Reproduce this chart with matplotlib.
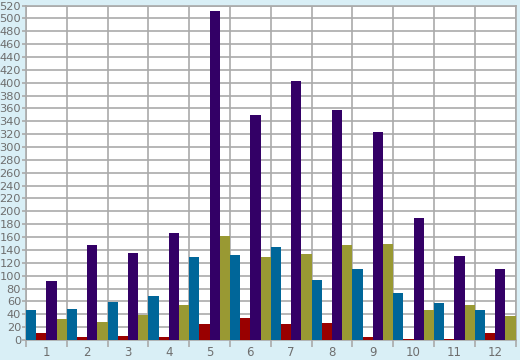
import numpy as np
import matplotlib.pyplot as plt

CATEGORIES = ["1", "2", "3", "4", "5", "6", "7", "8", "9", "10", "11", "12"]

BLUE_VALUES = [46, 48, 59, 68, 129, 132, 144, 93, 110, 73, 57, 46]
RED_VALUES = [11, 5, 6, 5, 25, 34, 25, 26, 5, 2, 1, 11]
PURPLE_VALUES = [91, 148, 135, 166, 512, 350, 402, 358, 324, 190, 130, 111]
OLIVE_VALUES = [32, 28, 39, 54, 162, 129, 133, 147, 150, 47, 54, 37]

SERIES_COLORS = ["#006699", "#990000", "#330066", "#999933"]

Y_TICKS = list(range(0, 521, 20))

BACKGROUND = "#d9eff6"
GRID_COLOR = "#aaaaaa"
TEXT_COLOR = "#6e6e6e"


def main():
    fig = plt.figure(figsize=(5.2, 3.6), dpi=100, facecolor=BACKGROUND)
    ax = fig.add_axes([26 / 520, 20 / 360, 489.5 / 520, 334.5 / 360])
    ax.set_facecolor("white")

    x = np.arange(len(CATEGORIES))
    width = 0.25
    series = [BLUE_VALUES, RED_VALUES, PURPLE_VALUES, OLIVE_VALUES]

    for index, (values, color) in enumerate(zip(series, SERIES_COLORS)):
        offset = (index - 1.5) * width
        ax.bar(x + offset, values, width=width, color=color, linewidth=0, zorder=3)

    ax.set_xlim(-0.5, len(CATEGORIES) - 0.5)
    ax.set_ylim(0, 520)

    ax.set_yticks(Y_TICKS)
    ax.set_xticks(x)
    ax.set_xticklabels(CATEGORIES)
    ax.set_xticks(np.arange(-0.5, len(CATEGORIES)), minor=True)

    ax.grid(True, which="major", axis="y", color=GRID_COLOR, linewidth=1.2, zorder=0)
    ax.grid(True, which="minor", axis="x", color=GRID_COLOR, linewidth=1.2, zorder=0)
    ax.grid(False, which="major", axis="x")

    # group numbers sit centred between the boundary ticks
    ax.tick_params(axis="x", which="major", length=0, pad=4,
                   labelsize=8.5, labelcolor=TEXT_COLOR)
    ax.tick_params(axis="x", which="minor", length=5, width=1.2,
                   color=GRID_COLOR, direction="out")
    ax.tick_params(axis="y", which="major", length=3, width=1.2,
                   color=GRID_COLOR, pad=0.5, labelsize=8.2, labelcolor=TEXT_COLOR)

    for spine in ax.spines.values():
        spine.set_color(GRID_COLOR)
        spine.set_linewidth(1.2)

    fig.savefig("out.png", dpi=100, facecolor=BACKGROUND)
    plt.close(fig)


if __name__ == "__main__":
    main()
